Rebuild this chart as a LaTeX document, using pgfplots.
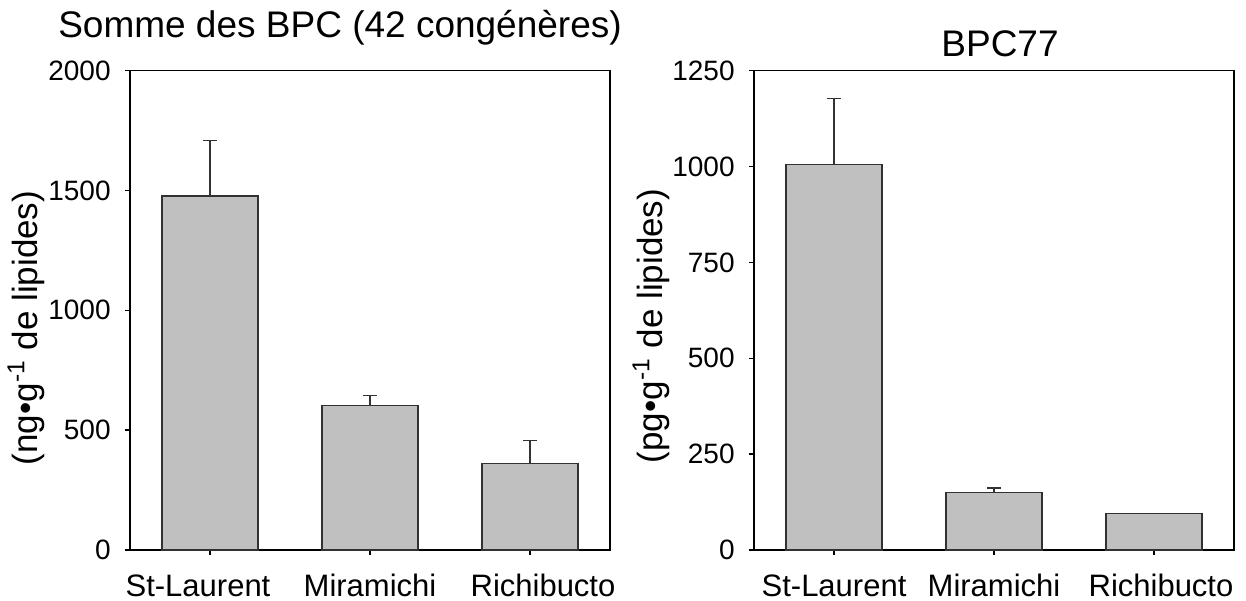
\documentclass[border=0pt]{standalone}
\usepackage{pgfplots}
\pgfplotsset{compat=1.18}
\usepackage{fontspec}
\setmainfont{Liberation Sans}

\definecolor{barfill}{RGB}{192,192,192}
\definecolor{bardraw}{RGB}{50,50,50}

\pgfplotsset{
  panel/.style={
    scale only axis,
    width=240pt, height=239.65pt,
    anchor=south west,
    ybar, bar width=48pt,
    xmin=-0.5, xmax=2.5, ymin=0,
    xtick={0,1,2},
    xtick pos=bottom, ytick pos=left,
    tick align=outside,
    major tick length=2.5pt,
    axis line style={line width=0.75pt},
    tick style={line width=0.75pt, black},
    xticklabel style={font=\fontsize{15.5}{15.5}\selectfont, anchor=base, inner sep=0pt, yshift=-20.5pt},
    yticklabel style={font=\fontsize{14}{14}\selectfont, anchor=east, inner sep=0pt, xshift=-7pt},
    /pgf/number format/assume math mode=true,
    /pgf/number format/1000 sep={},
    error bars/y dir=plus, error bars/y explicit,
    error bars/error bar style={line width=0.75pt, bardraw},
    error bars/error mark options={line width=0.75pt, bardraw, mark size=3.3pt, rotate=90},
  }
}

\pgfplotstableread{
x y err
0 1477 231
1 602 42
2 362 94
}\sumbpc

\pgfplotstableread{
x y err
0 1006 171
1 150 12
2 95 0
}\bpcsvsvii

\begin{document}
\begin{tikzpicture}
\path[use as bounding box] (0,0) rectangle (623pt,300pt);

\begin{axis}[panel, at={(65pt,25pt)}, ymax=2000, ytick={0,500,...,2000},
  xticklabels={\hspace*{-12pt}St-Laurent, Miramichi, Richibucto\hspace*{-13pt}}]
\addplot[fill=barfill, draw=bardraw, line width=0.75pt]
  table[x=x, y=y, y error=err] {\sumbpc};
\end{axis}

\begin{axis}[panel, at={(377pt,25pt)}, ymax=1250, ytick={0,250,...,1250},
  xticklabels={St-Laurent, Miramichi, Richibucto\hspace*{-7pt}}]
\addplot[fill=barfill, draw=bardraw, line width=0.75pt]
  table[x=x, y=y, y error=err] {\bpcsvsvii};
\end{axis}

\node[anchor=base, font=\fontsize{18.5}{18.5}\selectfont] at (170pt,281pt) {Somme des BPC (42 congénères)};
\node[anchor=base, font=\fontsize{18.5}{18.5}\selectfont] at (500pt,271.5pt) {BPC77};

\node[rotate=90, anchor=base, font=\fontsize{17.5}{17.5}\selectfont] at (18.5pt,136pt) {(ng•g\textsuperscript{-1} de lipides)};
\node[rotate=90, anchor=base, font=\fontsize{17.5}{17.5}\selectfont] at (331pt,137pt) {(pg•g\textsuperscript{-1} de lipides)};
\end{tikzpicture}
\end{document}
